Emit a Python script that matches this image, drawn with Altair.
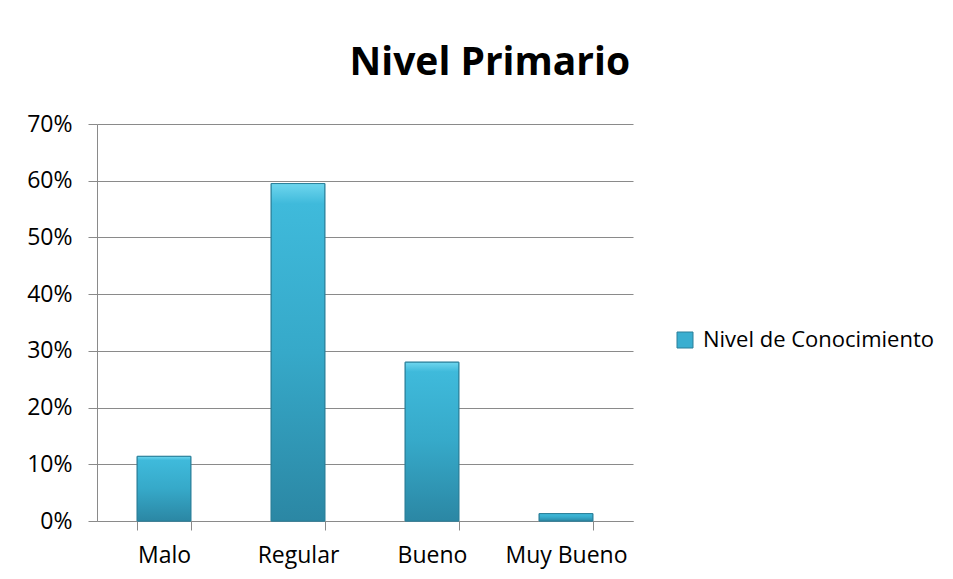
import altair as alt
import pandas as pd

categories = ["Malo", "Regular", "Bueno", "Muy Bueno"]
values = [0.114, 0.595, 0.280, 0.013]
series_name = "Nivel de Conocimiento"
y_ticks = [0, 0.1, 0.2, 0.3, 0.4, 0.5, 0.6, 0.7]

df = pd.DataFrame({"cat": categories, "val": values, "serie": [series_name] * len(categories)})

FONT = "Open Sans"
GRID = "#8a8a8a"

x_enc = alt.X(
    "cat:N",
    sort=categories,
    title=None,
    scale=alt.Scale(paddingInner=0.6, paddingOuter=0.3),
    axis=alt.Axis(
        labelAngle=0,
        tickBand="extent",
        tickSize=9,
        labelPadding=14,
        labelFontSize=23,
        labelFont=FONT,
        labelColor="#000000",
        domainColor=GRID,
        tickColor=GRID,
        grid=False,
    ),
)
y_enc = alt.Y(
    "val:Q",
    title=None,
    scale=alt.Scale(domain=[0, 0.7], nice=False),
    axis=alt.Axis(
        values=y_ticks,
        format=".0%",
        tickSize=9,
        labelPadding=16,
        labelFontSize=23,
        labelFont=FONT,
        labelColor="#000000",
        domainColor=GRID,
        tickColor=GRID,
        gridColor=GRID,
        gridWidth=1.2,
    ),
)

base = alt.Chart(df)

legend_bars = base.mark_bar(stroke="#2b7f99", strokeWidth=1).encode(
    x=x_enc,
    y=y_enc,
    color=alt.Color(
        "serie:N",
        title=None,
        scale=alt.Scale(range=["#3aaed0"]),
        legend=alt.Legend(
            orient="none",
            legendX=577,
            legendY=205,
            symbolType="square",
            symbolSize=256,
            symbolStrokeColor="#2b7f99",
            symbolStrokeWidth=1,
            labelFontSize=22,
            labelFont=FONT,
            labelColor="#000000",
            labelOffset=7,
            labelLimit=400,
        ),
    ),
)

gradient = alt.Gradient(
    gradient="linear",
    x1=0, x2=0, y1=0, y2=1,
    stops=[
        alt.GradientStop(color="#6fd6ee", offset=0),
        alt.GradientStop(color="#3fbadb", offset=0.06),
        alt.GradientStop(color="#36a9c9", offset=0.5),
        alt.GradientStop(color="#2b87a4", offset=1),
    ],
)

grad_bars = base.mark_bar(color=gradient, stroke="#2b7f99", strokeWidth=1).encode(
    x=x_enc,
    y=y_enc,
)

chart = (
    alt.layer(legend_bars, grad_bars)
    .properties(
        width=536,
        height=397,
        title=alt.TitleParams(
            "Nivel Primario",
            font=FONT,
            fontSize=39,
            fontWeight="bold",
            color="#000000",
            anchor="middle",
            frame="bounds",
            offset=30,
            dx=9,
        ),
        autosize=alt.AutoSizeParams(type="none"),
        padding={"left": 89, "top": 116, "right": 310, "bottom": 48},
        background="white",
    )
    .configure_view(stroke=None)
)

chart.save("out.html", embed_options={"renderer": "svg", "actions": False})
